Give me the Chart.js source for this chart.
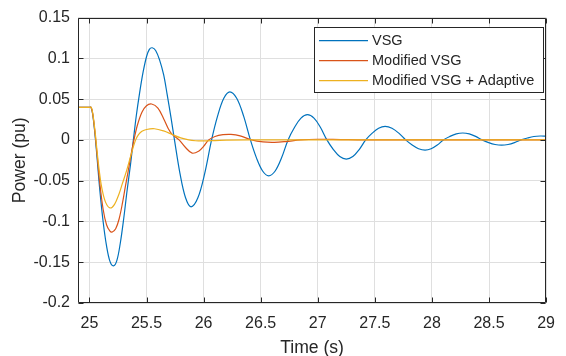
<!DOCTYPE html>
<html>
<head>
<meta charset="utf-8">
<script src="https://cdn.jsdelivr.net/npm/chart.js@4"></script>
<style>
html,body{margin:0;padding:0;background:#fff;}
#wrap{width:566px;height:356px;position:relative;}
</style>
</head>
<body>
<div id="wrap"><canvas id="c" width="566" height="356"></canvas></div>
<script>
// ---- data ----
const seriesNames = ['VSG', 'Modified VSG', 'Modified VSG + Adaptive'];
const xTicks = [25, 25.5, 26, 26.5, 27, 27.5, 28, 28.5, 29];
const xTickLabels = ['25', '25.5', '26', '26.5', '27', '27.5', '28', '28.5', '29'];
const yTicks = [-0.2, -0.15, -0.1, -0.05, 0, 0.05, 0.1, 0.15];
const yTickLabels = ['-0.2', '-0.15', '-0.1', '-0.05', '0', '0.05', '0.1', '0.15'];

const vsgTime = [24.9, 25.0, 25.015, 25.03, 25.05, 25.07, 25.09, 25.12, 25.15, 25.18, 25.21, 25.24, 25.27, 25.3, 25.33, 25.36, 25.385, 25.41, 25.44, 25.47, 25.5, 25.525, 25.55, 25.58, 25.615, 25.65, 25.68, 25.715, 25.745, 25.793, 25.842, 25.89, 25.95, 26.01, 26.07, 26.123, 26.177, 26.23, 26.29, 26.35, 26.41, 26.463, 26.517, 26.57, 26.627, 26.683, 26.74, 26.797, 26.853, 26.91, 26.967, 27.023, 27.08, 27.137, 27.193, 27.25, 27.307, 27.363, 27.42, 27.477, 27.533, 27.59, 27.65, 27.71, 27.77, 27.827, 27.883, 27.94, 27.993, 28.047, 28.1, 28.157, 28.213, 28.27, 28.327, 28.383, 28.44, 28.497, 28.553, 28.61, 28.667, 28.723, 28.78, 28.837, 28.893, 28.95, 29.0];
const vsgPower = [0.04, 0.04, 0.0398, 0.03, 0.005, -0.027, -0.06, -0.1, -0.13, -0.149, -0.1545, -0.148, -0.127, -0.097, -0.062, -0.03, 0.0, 0.029, 0.058, 0.083, 0.102, 0.111, 0.113, 0.1097, 0.0979, 0.08, 0.0565, 0.027, 0.0, -0.041, -0.071, -0.082, -0.071, -0.041, 0.0, 0.0295, 0.0511, 0.059, 0.0511, 0.0295, 0.0, -0.022, -0.0381, -0.044, -0.0381, -0.022, 0.0, 0.0155, 0.0268, 0.031, 0.0268, 0.0155, 0.0, -0.0118, -0.0204, -0.0235, -0.0204, -0.0118, 0.0, 0.0083, 0.0143, 0.0165, 0.0143, 0.0083, 0.0, -0.0063, -0.0108, -0.0125, -0.0108, -0.0063, 0.0, 0.0043, 0.0074, 0.0085, 0.0074, 0.0043, 0.0, -0.0033, -0.0056, -0.0065, -0.0056, -0.0033, 0.0, 0.0024, 0.0042, 0.0048, 0.0046];

const modTime = [24.9, 25.0, 25.015, 25.03, 25.05, 25.07, 25.09, 25.12, 25.15, 25.18, 25.2, 25.23, 25.26, 25.29, 25.315, 25.34, 25.365, 25.39, 25.42, 25.46, 25.5, 25.545, 25.6, 25.65, 25.69, 25.725, 25.785, 25.84, 25.9, 25.96, 26.0, 26.045, 26.1, 26.17, 26.24, 26.32, 26.42, 26.52, 26.62, 26.72, 26.85, 27.0, 27.2, 27.4, 29.0];
const modPower = [0.04, 0.04, 0.0398, 0.031, 0.007, -0.022, -0.052, -0.085, -0.104, -0.112, -0.113, -0.109, -0.097, -0.077, -0.057, -0.038, -0.018, 0.0, 0.018, 0.034, 0.042, 0.044, 0.039, 0.026, 0.014, 0.0067, 0.0, -0.009, -0.0162, -0.0135, -0.008, 0.0, 0.0042, 0.0064, 0.0068, 0.005, 0.0, -0.0025, -0.003, -0.002, 0.0, 0.0008, 0.0004, 0.0, 0.0];

const adpTime = [24.9, 25.0, 25.017, 25.03, 25.05, 25.07, 25.09, 25.11, 25.14, 25.18, 25.22, 25.26, 25.29, 25.325, 25.365, 25.405, 25.43, 25.46, 25.5, 25.57, 25.65, 25.725, 25.8, 25.87, 25.93, 26.0, 26.1, 26.2, 26.4, 29.0];
const adpPower = [0.04, 0.04, 0.0398, 0.032, 0.01, -0.018, -0.042, -0.06, -0.076, -0.0834, -0.079, -0.066, -0.053, -0.038, -0.018, 0.0, 0.0065, 0.0105, 0.0128, 0.0137, 0.011, 0.0067, 0.0025, 0.0, -0.001, -0.0012, -0.0008, -0.0003, 0.0, 0.0];

// ---- styles ----
const colors = ['#0072BD', '#D95319', '#EDB120'];
const FONT = '"Liberation Sans", Arial, Helvetica, sans-serif';
const TXT = '#262626';
const GRID = '#dfdfdf';

function pairs(t, p) { return t.map((v, i) => ({x: v, y: p[i]})); }

const boxPlugin = {
  id: 'box',
  afterDraw(chart) {
    const ctx = chart.ctx, a = chart.chartArea;
    const xs = chart.scales.x, ys = chart.scales.y;
    ctx.save();
    ctx.strokeStyle = TXT;
    ctx.lineWidth = 1;
    ctx.beginPath();
    const L = Math.round(a.left) + 0.5, R = Math.round(a.right) - 0.5;
    const T = Math.round(a.top) + 0.5, B = Math.round(a.bottom) - 0.5;
    ctx.rect(L, T, R - L, B - T);
    const tl = 5;
    xTicks.forEach(v => {
      const px = Math.round(xs.getPixelForValue(v)) + 0.5;
      ctx.moveTo(px, B); ctx.lineTo(px, B - tl);
      ctx.moveTo(px, T); ctx.lineTo(px, T + tl);
    });
    yTicks.forEach(v => {
      const py = Math.round(ys.getPixelForValue(v)) + 0.5;
      ctx.moveTo(L, py); ctx.lineTo(L + tl, py);
      ctx.moveTo(R, py); ctx.lineTo(R - tl, py);
    });
    ctx.stroke();

    // legend
    const lx = 314.5, ly = 27.5, lw = 229, lh = 65;
    ctx.fillStyle = '#fff';
    ctx.fillRect(lx, ly, lw, lh);
    ctx.strokeStyle = TXT;
    ctx.strokeRect(lx, ly, lw, lh);
    ctx.font = '14.5px ' + FONT;
    ctx.textBaseline = 'middle';
    ctx.textAlign = 'left';
    chart.data.datasets.forEach((ds, i) => {
      const y = 40.7 + i * 20;
      ctx.strokeStyle = ds.borderColor;
      ctx.lineWidth = 1.2;
      ctx.beginPath();
      ctx.moveTo(319, y); ctx.lineTo(368, y);
      ctx.stroke();
      ctx.fillStyle = TXT;
      ctx.fillText(ds.label, 372, y + 0.5);
    });
    ctx.restore();
  }
};

new Chart(document.getElementById('c'), {
  type: 'line',
  data: {
    datasets: [
      {label: seriesNames[0], data: pairs(vsgTime, vsgPower), borderColor: colors[0], order: 2},
      {label: seriesNames[1], data: pairs(modTime, modPower), borderColor: colors[1], order: 1},
      {label: seriesNames[2], data: pairs(adpTime, adpPower), borderColor: colors[2], order: 0}
    ].map(d => Object.assign(d, {borderWidth: 1.2, pointRadius: 0, fill: false, tension: 0.35}))
  },
  options: {
    responsive: false,
    animation: false,
    events: [],
    layout: {padding: {left: 0, right: 10, top: 14, bottom: 0}},
    plugins: {legend: {display: false}, tooltip: {enabled: false}},
    scales: {
      x: {
        type: 'linear', min: 24.9, max: 29,
        afterBuildTicks: s => { s.ticks = xTicks.map(v => ({value: v})); },
        afterFit: s => { s.height = 53; },
        grid: {color: GRID, drawTicks: false, lineWidth: 1},
        border: {display: false},
        ticks: {
          color: TXT, font: {family: FONT, size: 16}, padding: 11, maxRotation: 0, autoSkip: false,
          callback: (v) => { const i = xTicks.indexOf(v); return i >= 0 ? xTickLabels[i] : ''; }
        },
        title: {display: true, text: 'Time (s)', color: TXT, font: {family: FONT, size: 17.6}, padding: {top: 0, bottom: -3}}
      },
      y: {
        type: 'linear', min: -0.2, max: 0.15,
        afterBuildTicks: s => { s.ticks = yTicks.map(v => ({value: v})); },
        afterFit: s => { s.width = 78; },
        grid: {color: GRID, drawTicks: false, lineWidth: 1},
        border: {display: false},
        ticks: {
          color: TXT, font: {family: FONT, size: 16}, padding: 8, autoSkip: false,
          callback: (v) => { const i = yTicks.findIndex(t => Math.abs(t - v) < 1e-9); return i >= 0 ? yTickLabels[i] : ''; }
        },
        title: {display: true, text: 'Power (pu)', color: TXT, font: {family: FONT, size: 17.6}, padding: {top: 10, bottom: 0}}
      }
    }
  },
  plugins: [boxPlugin]
});
</script>
</body>
</html>
